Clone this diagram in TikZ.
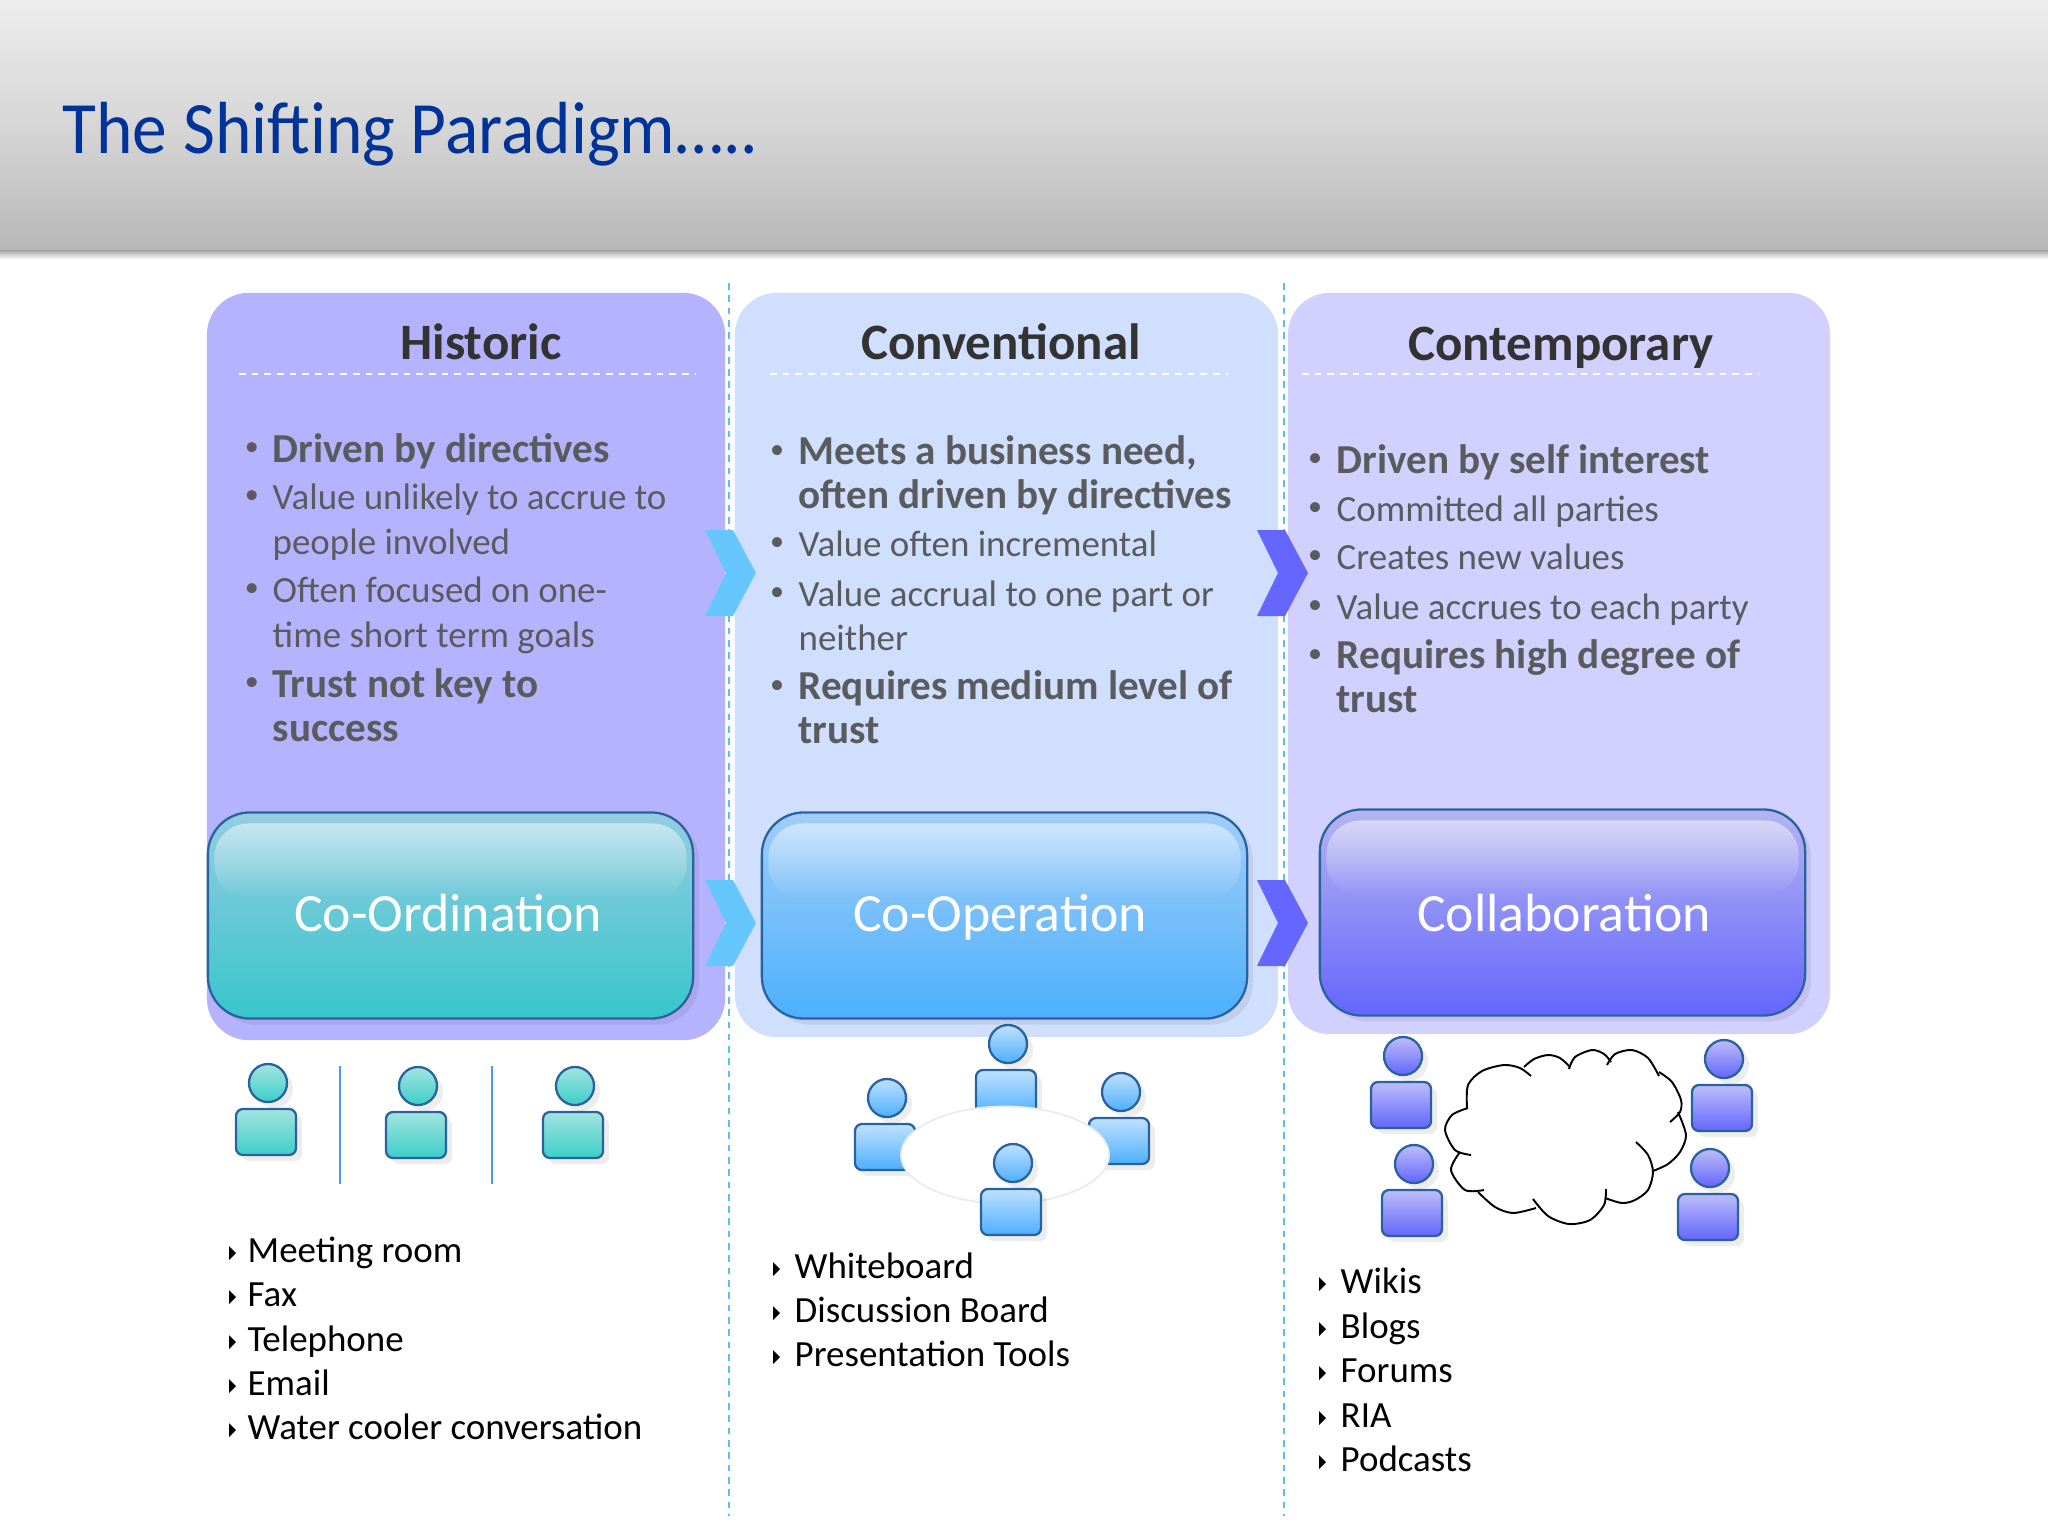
\documentclass[tikz,border=0pt]{standalone}
\usepackage{fontspec}
\setmainfont{Carlito}
\newfontfamily\titlefont[FakeStretch=0.94]{Carlito}
\usetikzlibrary{shapes.geometric,shadows,fadings}
\definecolor{titleblue}{HTML}{003399}
\definecolor{headgray}{HTML}{333333}
\definecolor{itemgray}{HTML}{595B5E}
\definecolor{edgeblue}{HTML}{2A62A0}
\definecolor{rulecyan}{HTML}{5BC0EA}
\definecolor{histfill}{HTML}{B6B3FE}
\definecolor{convfill}{HTML}{D0DFFE}
\definecolor{contfill}{HTML}{D2D0FE}
\definecolor{chevlight}{HTML}{66C7FF}
\definecolor{onetop}{HTML}{A3E4DF}\definecolor{onebot}{HTML}{3BCFC9}
\definecolor{twotop}{HTML}{BFE1FD}\definecolor{twobot}{HTML}{4DB0FD}
\definecolor{thrtop}{HTML}{BDBDF8}\definecolor{thrbot}{HTML}{6466FD}
\tikzfading[name=glossfade, top color=transparent!0, bottom color=transparent!100]
\tikzset{
  softshadow/.style={drop shadow={shadow xshift=.06cm, shadow yshift=-.06cm, opacity=.07, fill=black}},
  panelbox/.style={rectangle, rounded corners=.42cm, inner sep=0pt},
  glossbox/.style={rectangle, rounded corners=.42cm, draw=edgeblue, line width=.65pt, inner sep=0pt,
                   minimum width=4.85cm, minimum height=2.06cm, softshadow},
  glosshigh/.style={rectangle, rounded corners=.34cm, inner sep=0pt, minimum width=4.72cm, minimum height=.75cm,
                    fill=white, fill opacity=.5, path fading=glossfade},
  boxlabel/.style={text=white, font=\fontsize{15.3}{18}\selectfont, anchor=base},
  headtxt/.style={text=headgray, font=\fontsize{14.5}{17}\bfseries\selectfont, anchor=base},
  itemtxt/.style={text=itemgray, font=\fontsize{10.5}{12.6}\selectfont, anchor=base west, inner sep=0pt},
  itembold/.style={text=itemgray, font=\fontsize{11.7}{12.6}\bfseries\selectfont, anchor=base west, inner sep=0pt},
  bulletmark/.style={text=itemgray, font=\fontsize{8}{10}\selectfont, anchor=base, inner sep=0pt},
  tooltxt/.style={text=black, font=\fontsize{10.5}{12.6}\selectfont, anchor=base west, inner sep=0pt},
  personpart/.style={draw=edgeblue, line width=.65pt, inner sep=0pt, softshadow},
  teamone/.style={top color=onetop, bottom color=onebot},
  teamtwo/.style={top color=twotop, bottom color=twobot},
  teamthr/.style={top color=thrtop, bottom color=thrbot},
  pics/person/.style={code={
    \node[personpart, circle, minimum size=.38cm, #1] (-head) at (0,0) {};
    \node[personpart, rectangle, rounded corners=.07cm, minimum width=.6cm, minimum height=.46cm, #1] (-body) at (-2,49) {};
  }},
  pics/chevron/.style={code={
    \fill[#1] (0,-43) -- (28,-43) -- (51,0) -- (28,43) -- (0,43) -- (21,0) -- cycle;
  }},
}
\begin{document}
\begin{tikzpicture}[x=.01cm, y=-.01cm]
  \useasboundingbox (0,0) rectangle (2048,1536);
  % title band
  \node[rectangle, inner sep=0pt, minimum width=20.48cm, minimum height=.1cm, top color=black!40, bottom color=white] (bandshade) at (1024,254) {};
  \node[rectangle, inner sep=0pt, minimum width=20.48cm, minimum height=2.49cm, top color=black!7, bottom color=black!28,
        middle color=black!16] (band) at (1024,124.5) {};
  \node[text=titleblue, font=\titlefont\fontsize{21}{25}\selectfont, anchor=base west, inner sep=0pt] (title) at (62,153) {The Shifting Paradigm…..};
  % panels
  \node[panelbox, minimum width=5.18cm, minimum height=7.47cm, fill=histfill] (histpanel) at (466,666.5) {};
  \node[panelbox, minimum width=5.43cm, minimum height=7.44cm, fill=convfill] (convpanel) at (1006.5,665) {};
  \node[panelbox, minimum width=5.42cm, minimum height=7.41cm, fill=contfill] (contpanel) at (1559,663.5) {};
  \coordinate (sep1top) at (729,283); \coordinate (sep1bot) at (729,1516);
  \coordinate (sep2top) at (1284,283); \coordinate (sep2bot) at (1284,1516);
  \draw[rulecyan, line width=.6pt, dash pattern=on 1.9pt off 1.6pt] (sep1top) -- (sep1bot);
  \draw[rulecyan, line width=.6pt, dash pattern=on 1.9pt off 1.6pt] (sep2top) -- (sep2bot);
  % headers
  \node[headtxt] (hist) at (481,359) {Historic};
  \node[headtxt] (conv) at (1001,359) {Conventional};
  \node[headtxt] (cont) at (1561,360) {Contemporary};
  \foreach \xa/\xb in {239/696, 770/1228, 1302/1758}{
    \coordinate (ra) at (\xa,374); \coordinate (rb) at (\xb,374);
    \draw[white, line width=.5pt, dash pattern=on 1.9pt off 1.7pt] (ra) -- (rb);
  }
  % historic items
  \foreach \by in {461,509,602,696} \node[bulletmark] (hb\by) at (252,\by-6) {•};
  \node[itembold] (h1) at (272,462) {Driven by directives};
  \node[itemtxt] (h2) at (272,509) {Value unlikely to accrue to};
  \node[itemtxt] (h2b) at (272,554) {people involved};
  \node[itemtxt] (h3) at (272,602) {Often focused on one-};
  \node[itemtxt] (h3b) at (272,647) {time short term goals};
  \node[itembold] (h4) at (272,697) {Trust not key to};
  \node[itembold] (h4b) at (272,741) {success};
  % conventional items
  \foreach \by in {464,556,606,699} \node[bulletmark] (cb\by) at (777,\by-6) {•};
  \node[itembold] (c1) at (798,464) {Meets a business need,};
  \node[itembold] (c1b) at (798,508) {often driven by directives};
  \node[itemtxt] (c2) at (798,556) {Value often incremental};
  \node[itemtxt] (c3) at (798,606) {Value accrual to one part or};
  \node[itemtxt] (c3b) at (798,650) {neither};
  \node[itembold] (c4) at (798,699) {Requires medium level of};
  \node[itembold] (c4b) at (798,743) {trust};
  % contemporary items
  \foreach \by in {472,521,569,619,668} \node[bulletmark] (tb\by) at (1315,\by-6) {•};
  \node[itembold] (t1) at (1336,473) {Driven by self interest};
  \node[itemtxt] (t2) at (1336,521) {Committed all parties};
  \node[itemtxt] (t3) at (1336,569) {Creates new values};
  \node[itemtxt] (t4) at (1336,619) {Value accrues to each party};
  \node[itembold] (t5) at (1336,668) {Requires high degree of};
  \node[itembold] (t5b) at (1336,712) {trust};
  % stage boxes
  \node[glossbox, top color={rgb,255:red,147;green,205;blue,224}, middle color={rgb,255:red,109;green,207;blue,219}, bottom color=onebot!95!blue] (coord) at (450.5,915.5) {};
  \node[glosshigh] (coordhigh) at (450.5,861) {};
  \node[boxlabel] (coordlab) at (448,931) {Co-Ordination};
  \node[glossbox, top color={rgb,255:red,160;green,205;blue,248}, middle color={rgb,255:red,128;green,196;blue,252}, bottom color=twobot] (coop) at (1004.5,915.5) {};
  \node[glosshigh] (coophigh) at (1004.5,861) {};
  \node[boxlabel] (cooplab) at (1000,931) {Co-Operation};
  \node[glossbox, top color={rgb,255:red,180;green,180;blue,240}, middle color={rgb,255:red,146;green,148;blue,250}, bottom color=thrbot] (coll) at (1562.5,912.5) {};
  \node[glosshigh] (collhigh) at (1562.5,858) {};
  \node[boxlabel] (colllab) at (1564,931) {Collaboration};
  % chevrons
  \pic at (705,573) {chevron=chevlight};
  \pic at (705,923) {chevron=chevlight};
  \pic at (1257,573) {chevron=thrbot};
  \pic at (1257,923) {chevron=thrbot};
  % people
  \foreach \px/\py in {268/1083, 418/1086, 575/1086} \pic (pa\px) at (\px,\py) {person=teamone};
  \coordinate (div1top) at (340,1066); \coordinate (div1bot) at (340,1184);
  \coordinate (div2top) at (492,1066); \coordinate (div2bot) at (492,1184);
  \draw[rulecyan!80!blue, line width=.5pt] (div1top) -- (div1bot);
  \draw[rulecyan!80!blue, line width=.5pt] (div2top) -- (div2bot);
  \foreach \px/\py in {1008/1044, 887/1098, 1121/1092} \pic (pb\px) at (\px,\py) {person=teamtwo};
  \node[ellipse, draw=black!8, line width=.5pt, fill=white, minimum width=2.08cm, minimum height=.97cm, inner sep=0pt] (table) at (1005,1155) {};
  \pic (pb1013) at (1013,1163) {person=teamtwo};
  \foreach \px/\py in {1403/1056, 1724/1059, 1414/1164, 1710/1168} \pic (pc\px) at (\px,\py) {person=teamthr};
  % cloud
  \foreach \lobe in {
    {(1467,1108) (1468,1085) (1482,1071) (1504,1065) (1520,1068) (1531,1076)},
    {(1524,1067) (1534,1059) (1548,1055) (1560,1058) (1570,1067)},
    {(1569,1069) (1575,1057) (1592,1050) (1604,1054) (1611,1062)},
    {(1607,1065) (1615,1054) (1632,1050) (1648,1058) (1659,1076)},
    {(1659,1072) (1672,1082) (1681,1100) (1680,1112) (1670,1122)},
    {(1678,1112) (1686,1135) (1680,1152) (1668,1164) (1653,1171)},
    {(1636,1142) (1648,1155) (1653,1172) (1648,1190) (1635,1200) (1622,1203) (1605,1198)},
    {(1606,1189) (1604,1205) (1590,1220) (1569,1224) (1548,1216) (1533,1199)},
    {(1536,1208) (1513,1213) (1495,1207) (1478,1192)},
    {(1484,1190) (1465,1190) (1451,1170) (1460,1152)},
    {(1471,1155) (1455,1150) (1445,1130) (1452,1115) (1468,1108)}}
    \draw[black, line width=.55pt] plot[smooth] coordinates \lobe;
  % tool lists
  \foreach \tx/\ty in {229/1262,229/1306,229/1351,229/1395,229/1439,773/1278,773/1322,773/1366,1319/1293,1319/1338,1319/1382,1319/1427,1319/1471}
    \fill[black] (\tx,\ty-16) -- (\tx+7,\ty-9) -- (\tx,\ty-2) -- cycle;
  \node[tooltxt] (l1) at (247,1262) {Meeting room};
  \node[tooltxt] (l2) at (247,1306) {Fax};
  \node[tooltxt] (l3) at (247,1351) {Telephone};
  \node[tooltxt] (l4) at (247,1395) {Email};
  \node[tooltxt] (l5) at (247,1439) {Water cooler conversation};
  \node[tooltxt] (m1) at (794,1278) {Whiteboard};
  \node[tooltxt] (m2) at (794,1322) {Discussion Board};
  \node[tooltxt] (m3) at (794,1366) {Presentation Tools};
  \node[tooltxt] (r1) at (1340,1293) {Wikis};
  \node[tooltxt] (r2) at (1340,1338) {Blogs};
  \node[tooltxt] (r3) at (1340,1382) {Forums};
  \node[tooltxt] (r4) at (1340,1427) {RIA};
  \node[tooltxt] (r5) at (1340,1471) {Podcasts};
\end{tikzpicture}
\end{document}
